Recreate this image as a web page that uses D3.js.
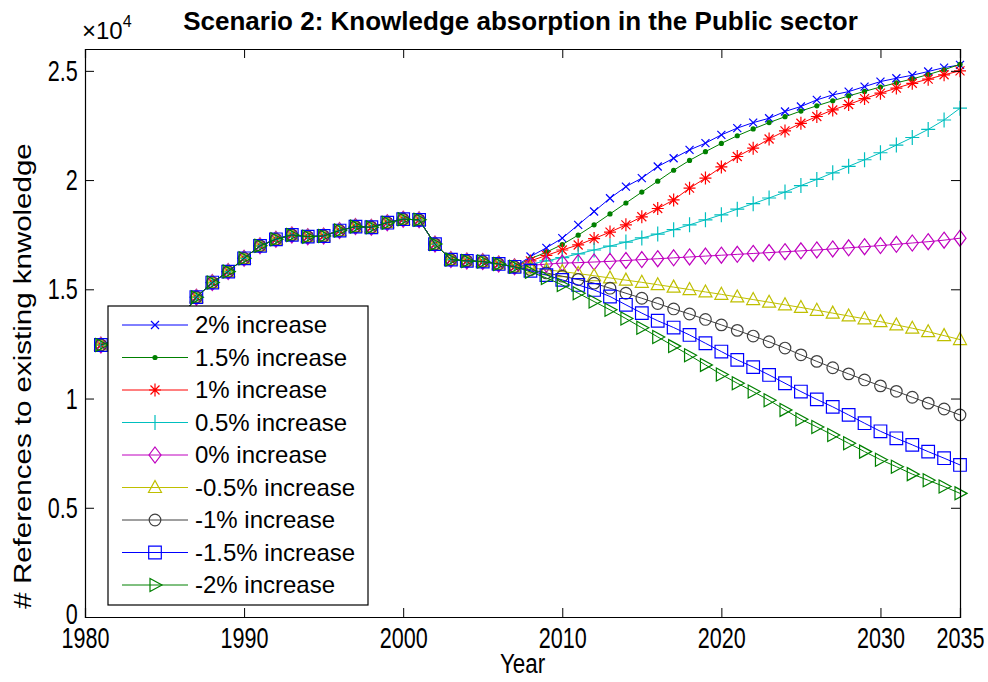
<!DOCTYPE html>
<html>
<head>
<meta charset="utf-8">
<script src="https://cdn.jsdelivr.net/npm/d3@7"></script>
<style>
  html, body { margin: 0; padding: 0; background: #fff; }
  svg { display: block; font-family: "Liberation Sans", Arial, sans-serif; }
</style>
</head>
<body>
<svg id="chart" width="988" height="682"></svg>
<script>
// Historical references to existing knowledge (1981-2007), shared by all scenarios
const histYears = d3.range(1981, 2008);
const history = [12450, 12700, 12900, 13100, 13400, 13700, 14640, 15310, 15810, 16420,
                 16990, 17290, 17490, 17410, 17440, 17690, 17870, 17840, 18050, 18210,
                 18180, 17070, 16360, 16300, 16270, 16160, 16030];

// Projections 2008-2035 for each growth scenario
const projYears = d3.range(2008, 2036);
const inc2 = [16500, 16900, 17340, 17950, 18560, 19170, 19700, 20090, 20620, 21000,
              21380, 21690, 22070, 22380, 22630, 22830, 23140, 23370, 23670, 23900,
              24050, 24280, 24510, 24660, 24800, 24970, 25150, 25270];
const inc15 = [16400, 16700, 17050, 17480, 17950, 18450, 18950, 19450, 19950, 20450,
               20900, 21300, 21680, 22030, 22340, 22630, 22900, 23160, 23400, 23630,
               23850, 24060, 24260, 24450, 24630, 24830, 25050, 25300];
const inc1 = [16300, 16550, 16800, 17030, 17320, 17620, 17950, 18320, 18700, 19090,
              19630, 20090, 20600, 21080, 21460, 21880, 22250, 22600, 22910, 23210,
              23460, 23730, 23980, 24210, 24430, 24620, 24820, 25000];
const inc05 = [16150, 16300, 16450, 16620, 16800, 16980, 17160, 17350, 17530, 17730,
               17950, 18180, 18410, 18670, 18920, 19180, 19450, 19750, 20030, 20330,
               20630, 20930, 21250, 21600, 21950, 22320, 22750, 23290];
const inc0 = [16100, 16150, 16200, 16220, 16250, 16280, 16320, 16360, 16400, 16440,
              16480, 16520, 16560, 16600, 16640, 16680, 16720, 16760, 16800, 16850,
              16900, 16950, 17000, 17060, 17120, 17180, 17250, 17340];
const dec05 = [15980, 15900, 15810, 15720, 15620, 15520, 15420, 15320, 15210, 15100,
               14990, 14880, 14770, 14650, 14530, 14410, 14290, 14170, 14040, 13910,
               13780, 13650, 13520, 13370, 13220, 13060, 12880, 12700];
const dec1 = [15900, 15750, 15600, 15450, 15280, 15050, 14820, 14590, 14350, 14100,
              13870, 13620, 13370, 13120, 12860, 12600, 12310, 12000, 11700, 11410,
              11130, 10850, 10580, 10330, 10060, 9790, 9520, 9250];
const dec15 = [15850, 15650, 15430, 15200, 14970, 14670, 14290, 13910, 13560, 13250,
               12910, 12530, 12150, 11770, 11440, 11080, 10700, 10320, 9960, 9620,
               9250, 8870, 8500, 8180, 7880, 7570, 7270, 6960];
const dec2 = [15800, 15520, 15200, 14820, 14440, 14060, 13660, 13240, 12820, 12400,
              11980, 11540, 11100, 10700, 10320, 9920, 9480, 9050, 8700, 8330,
              7950, 7570, 7200, 6880, 6540, 6260, 5970, 5660];

const labels = ["2% increase", "1.5% increase", "1% increase", "0.5% increase", "0% increase",
                "-0.5% increase", "-1% increase", "-1.5% increase", "-2% increase"];
const projections = [inc2, inc15, inc1, inc05, inc0, dec05, dec1, dec15, dec2];
const colors = ["#0000ff", "#008000", "#ff0000", "#00bfbf", "#bf00bf",
                "#bfbf00", "#404040", "#0000ff", "#008000"];
const markers = ["x", "point", "star", "plus", "diamond", "triUp", "circle", "square", "triRight"];

const xTicks = [1980, 1990, 2000, 2010, 2020, 2030, 2035];
const yTicks = [0, 5000, 10000, 15000, 20000, 25000];

const svg = d3.select("#chart");
const L = 85, R = 960, T = 49, B = 617;
const x = d3.scaleLinear().domain([1980, 2035]).range([L, R]);
const y = d3.scaleLinear().domain([0, 26000]).range([B, T]);

// marker path builders (centered at 0,0)
function markerPath(kind) {
  const p = d3.path();
  switch (kind) {
    case "x": p.moveTo(-4, -4); p.lineTo(4, 4); p.moveTo(-4, 4); p.lineTo(4, -4); break;
    case "star":
      p.moveTo(-6, 0); p.lineTo(6, 0); p.moveTo(0, -6.5); p.lineTo(0, 6.5);
      p.moveTo(-4.5, -4.5); p.lineTo(4.5, 4.5); p.moveTo(-4.5, 4.5); p.lineTo(4.5, -4.5); break;
    case "plus": p.moveTo(-7, 0); p.lineTo(7, 0); p.moveTo(0, -7.5); p.lineTo(0, 7.5); break;
    case "diamond": p.moveTo(0, -8); p.lineTo(6, 0); p.lineTo(0, 8); p.lineTo(-6, 0); p.closePath(); break;
    case "triUp": p.moveTo(0, -7); p.lineTo(6.5, 5); p.lineTo(-6.5, 5); p.closePath(); break;
    case "circle": p.arc(0, 0, 5.8, 0, 2 * Math.PI); break;
    case "square": p.rect(-6.3, -6.3, 12.6, 12.6); break;
    case "triRight": p.moveTo(7, 0); p.lineTo(-5, 6.5); p.lineTo(-5, -6.5); p.closePath(); break;
  }
  return p.toString();
}

function drawMarker(g, kind, color) {
  if (kind === "point") {
    g.append("circle").attr("r", 2.6).attr("fill", color).attr("stroke", "none");
  } else {
    g.append("path").attr("d", markerPath(kind)).attr("fill", "none")
      .attr("stroke", color).attr("stroke-width", 1.2);
  }
}

const series = projections.map((proj, i) => ({
  label: labels[i], color: colors[i], marker: markers[i],
  points: histYears.map((yr, k) => [yr, history[k]])
    .concat(projYears.map((yr, k) => [yr, proj[k]]))
}));

// plotting area
const plot = svg.append("g");
plot.append("rect").attr("x", L).attr("y", T).attr("width", R - L).attr("height", B - T)
  .attr("fill", "#fff");

const line = d3.line().x(d => x(d[0])).y(d => y(d[1]));
series.forEach(s => {
  const g = plot.append("g");
  g.append("path").attr("d", line(s.points)).attr("fill", "none")
    .attr("stroke", s.color).attr("stroke-width", 1);
  s.points.forEach(pt => {
    const m = g.append("g").attr("transform", `translate(${x(pt[0])},${y(pt[1])})`);
    drawMarker(m, s.marker, s.color);
  });
});

// axes with inward ticks on all four sides
const xAxis = svg.append("g").attr("transform", `translate(0,${B})`)
  .call(d3.axisBottom(x).tickValues(xTicks).tickFormat(d3.format("d")).tickSize(-9).tickPadding(10));
const xTop = svg.append("g").attr("transform", `translate(0,${T})`)
  .call(d3.axisTop(x).tickValues(xTicks).tickSize(-9).tickFormat(""));
const yAxis = svg.append("g").attr("transform", `translate(${L},0)`)
  .call(d3.axisLeft(y).tickValues(yTicks).tickFormat(d => d === 0 ? "0" : String(d / 10000)).tickSize(-9).tickPadding(10));
const yRight = svg.append("g").attr("transform", `translate(${R},0)`)
  .call(d3.axisRight(y).tickValues(yTicks).tickSize(-9).tickFormat(""));

[xAxis, xTop, yAxis, yRight].forEach(a => {
  a.select(".domain").attr("stroke", "#000").attr("stroke-width", 1.2);
  a.selectAll(".tick line").attr("stroke", "#000").attr("stroke-width", 1);
});
[xAxis, yAxis].forEach(a => {
  a.selectAll(".tick text").attr("font-size", 30).attr("fill", "#000")
    .attr("font-family", "Liberation Sans, Arial, sans-serif")
    .attr("transform", "scale(0.72,1)");
});
// lift the zero label a touch so it sits above the first year label
yAxis.selectAll(".tick text").filter(d => d === 0).attr("dy", "0.22em");

// exponent note
const ex = svg.append("text").attr("x", 82).attr("y", 39).attr("font-size", 24).attr("fill", "#000");
ex.append("tspan").text("\u00d710");
ex.append("tspan").attr("font-size", 16).attr("dy", -12).text("4");

// title
svg.append("text").attr("x", (L + R) / 2 - 2).attr("y", 30).attr("text-anchor", "middle")
  .attr("font-size", 26).attr("font-weight", "bold").attr("fill", "#000")
  .text("Scenario 2: Knowledge absorption in the Public sector");

// axis labels
svg.append("text").attr("transform", `translate(${(L + R) / 2},673) scale(0.8,1)`)
  .attr("text-anchor", "middle").attr("font-size", 28).attr("fill", "#000").text("Year");
svg.append("text").attr("transform", `translate(31,376) scale(0.78,1) rotate(-90)`)
  .attr("text-anchor", "middle").attr("font-size", 29.5).attr("fill", "#000")
  .text("# References to existing knwoledge");

// legend
const lg = svg.append("g");
lg.append("rect").attr("x", 108).attr("y", 306).attr("width", 260).attr("height", 299)
  .attr("fill", "#fff").attr("stroke", "#000").attr("stroke-width", 1.2);
series.forEach((s, i) => {
  const cy = 325 + i * 32.5;
  lg.append("line").attr("x1", 122).attr("x2", 188).attr("y1", cy).attr("y2", cy)
    .attr("stroke", s.color).attr("stroke-width", 1);
  drawMarker(lg.append("g").attr("transform", `translate(155,${cy})`), s.marker, s.color);
  lg.append("text").attr("x", 195).attr("y", cy + 8).attr("font-size", 24).attr("fill", "#000")
    .text(s.label);
});
</script>
</body>
</html>
